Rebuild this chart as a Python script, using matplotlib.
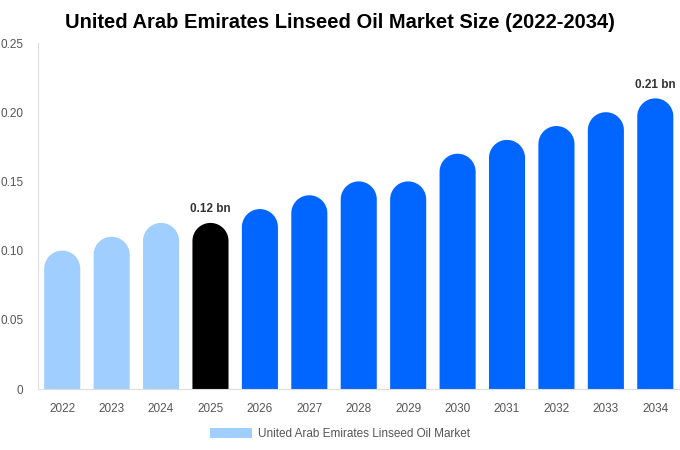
import matplotlib
matplotlib.use("Agg")
import matplotlib.pyplot as plt
import numpy as np
from matplotlib.patches import Polygon, Patch

plt.rcParams['font.family'] = ['Liberation Sans', 'DejaVu Sans']

years = ["2022", "2023", "2024", "2025", "2026", "2027", "2028",
         "2029", "2030", "2031", "2032", "2033", "2034"]
values = [0.10, 0.11, 0.12, 0.12, 0.13, 0.14, 0.15,
          0.15, 0.17, 0.18, 0.19, 0.20, 0.21]
colors = ["#a0cfff"] * 3 + ["#000000"] + ["#0066ff"] * 9
labels = {3: "0.12 bn", 12: "0.21 bn"}
yticks = [0, 0.05, 0.10, 0.15, 0.20, 0.25]
ytick_labels = ["0", "0.05", "0.10", "0.15", "0.20", "0.25"]

fig = plt.figure(figsize=(6.8, 4.5), dpi=100)
ax = fig.add_axes([37.5 / 680, 61 / 450, (680 - 37.5) / 680, (389 - 43) / 450])
ax.set_xlim(-0.5, len(years) - 0.5)
ax.set_ylim(0, 0.25)

# bar width and radius of round cap (in data units)
w = 0.73
px_x = ax.get_position().width * 680 / (len(years))
px_y = ax.get_position().height * 450 / 0.25
ry = (w * px_x / 2) / px_y
t = np.linspace(0, np.pi, 40)

for i, (v, c) in enumerate(zip(values, colors)):
    top = v - ry
    xs = np.concatenate([[i + w / 2], i + w / 2 * np.cos(t), [i - w / 2]])
    ys = np.concatenate([[0], top + ry * np.sin(t), [0]])
    ax.add_patch(Polygon(np.column_stack([xs, ys]), closed=True,
                         facecolor=c, edgecolor="none"))
    if i in labels:
        ax.text(i, v + 0.0055, labels[i], ha="center", va="bottom",
                fontsize=8.5, fontweight="bold", color="#333333")

ax.set_xticks(range(len(years)))
ax.set_xticklabels(years)
ax.set_yticks(yticks)
ax.set_yticklabels(ytick_labels)
ax.tick_params(length=0, labelsize=8.5, colors="#555555")
ax.tick_params(axis="x", pad=10)
ax.tick_params(axis="y", pad=10)
for s in ["top", "right"]:
    ax.spines[s].set_visible(False)
for s in ["left", "bottom"]:
    ax.spines[s].set_color("#dddddd")
    ax.spines[s].set_linewidth(0.8)

fig.suptitle("United Arab Emirates Linseed Oil Market Size (2022-2034)",
             fontsize=14.5, fontweight="bold", y=0.97)

fig.legend(handles=[Patch(facecolor="#a0cfff", label="United Arab Emirates Linseed Oil Market")],
           loc="center", bbox_to_anchor=(0.5, (450 - 434) / 450),
           frameon=False, fontsize=8.5, handlelength=3.5, handleheight=1.0,
           handletextpad=0.5, labelcolor="#555555")

fig.savefig("out.png", dpi=100)
